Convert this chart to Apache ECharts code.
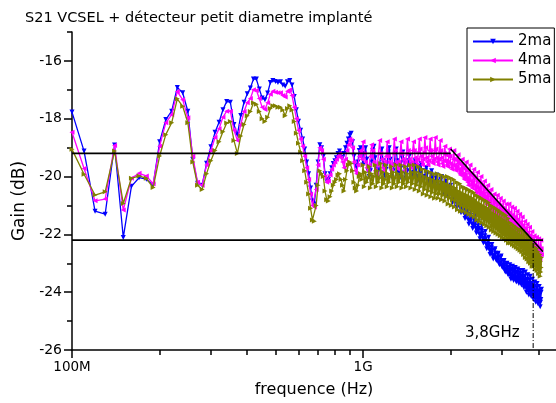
<!DOCTYPE html>
<html><head><meta charset="utf-8">
<script src="https://cdn.jsdelivr.net/npm/echarts@6/dist/echarts.min.js"></script>
<style>html,body{margin:0;padding:0;background:#fff}#c{width:556px;height:403px}</style>
</head><body><div id="c"></div>
<script>
// Sweep: 100 MHz start, 10 MHz step (401-point VNA sweep)
const fStartMHz = 100, fStepMHz = 10;
const seriesNames = ['2ma', '4ma', '5ma'];
const gain2ma = [
-17.77,-19.12,-21.2,-21.3,-18.91,-22.11,-20.34,-20.04,-20.09,-20.3,
-18.8,-18.03,-17.74,-16.92,-17.1,-17.74,-19.41,-20.23,-20.3,-19.54,
-18.97,-18.47,-18.12,-17.69,-17.4,-17.43,-18.2,-18.55,-17.89,-17.43,
-17.14,-16.94,-16.63,-16.63,-16.97,-17.28,-17.34,-17.11,-16.75,-16.68,
-16.71,-16.75,-16.72,-16.83,-16.88,-16.72,-16.68,-16.83,-17.23,-17.69,
-18.09,-18.4,-18.7,-19.05,-19.5,-19.9,-20.4,-20.85,-20.95,-20.3,
-19.5,-18.9,-19.0,-19.3,-19.9,-20.15,-20.1,-19.9,-19.7,-19.55,
-19.45,-19.35,-19.2,-19.12,-19.2,-19.35,-19.2,-19.0,-18.85,-18.7,
-18.55,-18.5,-18.8,-19.3,-19.6,-19.7,-19.5,-19.1,-19.0,-19.3,
-19.6,-19.2,-19.0,-19.4,-19.8,-20.0,-19.8,
-19.5,-19.1,-18.95,-19.35,-19.75,-20.05,-19.8,
-19.6,-19.25,-19.05,-19.45,-19.85,-20.0,-19.75,
-19.55,-19.15,-19.0,-19.4,-19.8,-20.05,-19.8,
-19.6,-19.2,-19.05,-19.45,-19.85,-20.1,-19.85,
-19.7,-19.35,-19.15,-19.5,-19.85,-20.05,-19.85,
-19.8,-19.45,-19.3,-19.6,-19.95,-20.1,-19.95,
-19.85,
-19.6,-19.45,-19.75,-20.0,-20.15,-20.0,
-19.9,-19.65,-19.55,-19.8,-20.05,-20.15,-20.05,
-20.0,-19.8,-19.7,-19.9,-20.1,-20.2,-20.1,
-20.1,-19.9,-19.8,-20.0,-20.2,-20.3,-20.2,
-20.25,-20.05,-19.95,-20.15,-20.35,-20.45,-20.35,
-20.35,-20.1,-20.0,-20.25,-20.5,-20.6,-20.5,
-20.5,-20.25,-20.15,-20.4,-20.65,-20.75,-20.65,
-20.65,-20.4,-20.3,-20.55,-20.8,-20.9,-20.8,
-20.8,-20.6,-20.45,-20.7,-20.9,-21.05,-20.9,
-21.0,-20.8,-20.65,-20.9,-21.1,-21.25,-21.1,
-21.2,-21.0,-20.85,-21.1,-21.3,-21.45,-21.3,
-21.4,-21.2,-21.05,-21.3,-21.5,-21.65,-21.5,
-21.55,-21.35,-21.2,-21.45,-21.65,-21.8,-21.65,
-21.7,-21.5,-21.35,-21.6,-21.8,-21.95,-21.8,
-21.9,-21.7,-21.55,-21.8,-22.0,-22.15,-22.0,
-22.05,-21.85,-21.7,-21.95,-22.15,-22.3,-22.15,
-22.25,-22.05,-21.9,-22.15,-22.35,-22.5,-22.35,
-22.45,-22.25,-22.1,-22.35,-22.55,-22.7,-22.55,
-22.65,-22.45,-22.35,-22.55,-22.75,-22.85,-22.75,
-22.75,-22.55,-22.5,-22.65,-22.85,-22.9,-22.85,
-22.9,-22.7,-22.65,-22.8,-23.0,-23.05,-23.0,
-23.0,-22.8,-22.75,-22.9,-23.1,-23.15,-23.1,
-23.15,-22.95,-22.9,-23.05,-23.25,-23.3,-23.25,
-23.25,-23.05,-23.0,-23.15,-23.35,-23.4,-23.35,
-23.35,-23.15,-23.05,-23.25,-23.45,-23.55,-23.45,
-23.4,-23.2,-23.1,-23.3,-23.5,-23.6,-23.5,
-23.45,-23.25,-23.15,-23.35,-23.55,-23.65,-23.55,
-23.5,-23.3,-23.2,-23.4,-23.6,-23.7,-23.6,
-23.55,-23.35,-23.25,-23.45,-23.65,-23.75,-23.65,
-23.6,-23.35,-23.25,-23.5,-23.75,-23.85,-23.75,
-23.7,-23.45,-23.3,-23.6,-23.85,-24.0,-23.85,
-23.8,-23.55,-23.4,-23.7,-23.95,-24.1,-23.95,
-23.85,-23.6,-23.45,-23.75,-24.0,-24.15,-24.0,
-23.95,-23.7,-23.55,-23.85,-24.1,-24.25,-24.1,
-24.05,-23.8,-23.65,-23.95,-24.2,-24.35,-24.2,
-24.1,-23.85,-23.7,-24.0,-24.25,-24.4,-24.25,
-24.2,-23.95,-23.8,-24.1,-24.35,-24.5,-24.35,
-24.25,-24.0,-23.9
];
const gain4ma = [
-18.47,-19.72,-20.84,-20.78,-18.93,-21.16,-20.06,-19.89,-19.98,-20.25,
-18.95,-18.14,-17.86,-17.06,-17.34,-17.97,-19.3,-20.2,-20.3,-19.6,
-19.1,-18.65,-18.35,-17.95,-17.74,-17.74,-18.4,-18.75,-18.2,-17.75,
-17.45,-17.3,-17.0,-17.02,-17.3,-17.6,-17.68,-17.45,-17.15,-17.05,
-17.08,-17.1,-17.1,-17.2,-17.25,-17.05,-17.0,-17.2,-17.6,-18.0,
-18.4,-18.7,-18.95,-19.3,-19.7,-20.1,-20.6,-21.0,-21.05,-20.45,
-19.6,-19.0,-19.1,-19.4,-20.0,-20.2,-20.15,-19.95,-19.75,-19.6,
-19.5,-19.4,-19.3,-19.2,-19.35,-19.5,-19.7,-19.4,-19.1,-18.9,
-18.7,-18.75,-19.0,-19.5,-19.8,-19.9,-19.6,-19.3,-19.1,-19.4,
-18.8,-19.2,-19.5,-19.7,-19.8,-19.6,-19.3,
-18.9,-19.1,-19.5,-19.8,-19.9,-19.6,-19.2,
-18.75,-19.2,-19.4,-19.7,-19.8,-19.5,-19.3,
-18.8,-19.3,-19.5,-19.7,-19.8,-19.6,-19.2,
-18.7,-19.1,-19.5,-19.7,-19.75,-19.5,-19.2,
-18.8,-19.2,-19.4,-19.6,-19.8,-19.5,-19.2,
-18.7,-19.1,-19.4,-19.6,-19.7,-19.5,-19.1,
-18.8,
-19.1,-19.35,-19.5,-19.6,-19.4,-19.15,
-18.7,-19.05,-19.3,-19.5,-19.6,-19.4,-19.15,
-18.65,-19.0,-19.35,-19.5,-19.6,-19.45,-19.1,
-18.7,-19.1,-19.3,-19.5,-19.55,-19.4,-19.1,
-18.65,-19.05,-19.35,-19.5,-19.6,-19.4,-19.15,
-18.75,-19.1,-19.35,-19.55,-19.65,-19.45,-19.2,
-18.95,-19.25,-19.45,-19.6,-19.65,-19.5,-19.3,
-19.05,-19.3,-19.55,-19.7,-19.75,-19.6,-19.4,
-19.1,-19.4,-19.6,-19.75,-19.8,-19.65,-19.45,
-19.25,-19.55,-19.75,-19.9,-19.95,-19.8,-19.6,
-19.4,-19.7,-19.9,-20.05,-20.1,-19.95,-19.75,
-19.5,-19.8,-20.05,-20.2,-20.3,-20.1,-19.9,
-19.6,-19.9,-20.15,-20.3,-20.4,-20.2,-20.0,
-19.75,-20.05,-20.3,-20.45,-20.55,-20.35,-20.15,
-19.85,-20.15,-20.4,-20.55,-20.65,-20.45,-20.25,
-20.0,-20.3,-20.55,-20.7,-20.8,-20.6,-20.4,
-20.15,-20.45,-20.7,-20.85,-20.95,-20.75,-20.55,
-20.3,-20.6,-20.85,-21.0,-21.1,-20.9,-20.7,
-20.45,-20.75,-21.0,-21.15,-21.25,-21.05,-20.85,
-20.6,-20.9,-21.1,-21.25,-21.3,-21.15,-20.95,
-20.65,-20.95,-21.15,-21.3,-21.35,-21.2,-21.0,
-20.75,-21.05,-21.25,-21.4,-21.45,-21.3,-21.1,
-20.85,-21.15,-21.35,-21.5,-21.55,-21.4,-21.2,
-20.95,-21.25,-21.45,-21.6,-21.65,-21.5,-21.3,
-20.95,-21.25,-21.5,-21.65,-21.75,-21.55,-21.35,
-21.05,-21.35,-21.6,-21.75,-21.85,-21.65,-21.45,
-21.1,-21.4,-21.65,-21.8,-21.9,-21.7,-21.5,
-21.2,-21.5,-21.75,-21.9,-22.0,-21.8,-21.6,
-21.3,-21.6,-21.85,-22.0,-22.1,-21.9,-21.7,
-21.4,-21.7,-21.95,-22.1,-22.2,-22.0,-21.8,
-21.55,-21.85,-22.1,-22.25,-22.35,-22.15,-21.95,
-21.65,-21.95,-22.2,-22.35,-22.45,-22.25,-22.05,
-21.75,-22.05,-22.3,-22.45,-22.55,-22.35,-22.15,
-21.9,-22.2,-22.45,-22.6,-22.7,-22.5,-22.3,
-22.05,-22.35,-22.55,-22.7,-22.75,-22.6,-22.4,
-22.1,-22.4,-22.6,-22.75,-22.8,-22.65,-22.45,
-22.15,-22.45,-22.65,-22.8,-22.85,-22.7,-22.5,
-22.2,-22.5,-22.7
];
const gain5ma = [
-19.06,-19.92,-20.64,-20.53,-19.12,-20.93,-20.06,-19.98,-20.06,-20.38,
-19.29,-18.55,-18.14,-17.31,-17.57,-18.14,-19.5,-20.3,-20.45,-19.9,
-19.45,-19.1,-18.8,-18.45,-18.15,-18.1,-18.75,-19.2,-18.6,-18.2,
-17.9,-17.75,-17.45,-17.5,-17.75,-18.0,-18.1,-17.95,-17.65,-17.55,
-17.55,-17.6,-17.6,-17.7,-17.9,-17.65,-17.55,-17.7,-18.1,-18.5,
-18.85,-19.15,-19.45,-19.8,-20.2,-20.6,-21.1,-21.5,-21.55,-21.0,
-20.3,-19.8,-19.9,-20.0,-20.5,-20.8,-20.85,-20.7,-20.5,-20.3,
-20.2,-20.1,-19.95,-19.9,-20.1,-20.3,-20.5,-20.1,-19.8,-19.6,
-19.5,-19.55,-19.8,-20.2,-20.4,-20.5,-20.3,-20.0,-19.9,-20.1,
-19.6,-20.35,-19.85,-20.2,-20.05,
-19.65,-20.4,-19.9,-20.25,-20.0,
-19.6,-20.35,-19.8,-20.2,-20.05,
-19.55,-20.4,-19.85,-20.25,-20.1,
-19.6,-20.35,-19.9,-20.2,-20.0,
-19.65,-20.4,-19.85,-20.25,-20.05,
-19.6,-20.35,-19.9,-20.2,-20.0,
-19.6,-20.4,-19.85,-20.25,-20.1,
-19.65,-20.35,-19.9,-20.2,-20.05,
-19.6,-20.4,-19.85,-20.25,-20.05,
-19.6,-20.45,-19.85,-20.3,-20.1,
-19.65,-20.5,-19.9,-20.35,-20.15,
-19.75,-20.6,-20.0,-20.45,-20.25,
-19.8,-20.65,-20.05,-20.5,-20.3,
-19.85,-20.7,-20.1,-20.55,-20.35,
-19.9,-20.75,-20.15,-20.6,-20.4,
-19.9,-20.75,-20.15,-20.6,-20.4,
-19.95,-20.8,-20.2,-20.65,-20.45,
-20.0,-20.85,-20.25,-20.7,-20.5,
-20.0,-20.95,-20.3,-20.75,-20.55,
-20.05,-21.0,-20.35,-20.8,-20.6,
-20.1,-21.05,-20.4,-20.85,-20.65,
-20.2,-21.15,-20.5,-20.95,-20.75,
-20.25,-21.2,-20.55,-21.0,-20.8,
-20.35,-21.2,-20.6,-21.05,-20.85,
-20.4,-21.25,-20.65,-21.1,-20.9,
-20.45,-21.3,-20.7,-21.15,-20.95,
-20.5,-21.35,-20.75,-21.2,-21.0,
-20.55,-21.4,-20.8,-21.25,-21.05,
-20.65,-21.5,-20.9,-21.35,-21.15,
-20.7,-21.55,-20.95,-21.4,-21.2,
-20.75,-21.6,-21.0,-21.45,-21.25,
-20.8,-21.65,-21.05,-21.5,-21.3,
-20.85,-21.7,-21.1,-21.55,-21.35,
-20.9,-21.75,-21.15,-21.6,-21.4,
-21.0,-21.85,-21.25,-21.7,-21.5,
-21.05,-21.9,-21.3,-21.75,-21.55,
-21.1,-21.95,-21.35,-21.8,-21.6,
-21.15,-22.0,-21.4,-21.85,-21.65,
-21.2,-22.05,-21.45,-21.9,-21.7,
-21.25,-22.1,-21.5,-21.95,-21.75,
-21.3,-22.15,-21.55,-22.0,-21.8,
-21.35,-22.2,-21.6,-22.05,-21.85,
-21.45,-22.3,-21.7,-22.15,-21.95,
-21.6,-22.3,-21.8,-22.15,-22.0,
-21.65,-22.35,-21.85,-22.2,-22.05,
-21.7,-22.4,-21.9,-22.25,-22.1,
-21.75,-22.45,-21.95,-22.3,-22.15,
-21.8,-22.5,-22.0,-22.35,-22.2,
-21.85,-22.55,-22.05,-22.4,-22.25,
-21.85,-22.6,-22.1,-22.45,-22.3,
-21.85,-22.7,-22.1,-22.55,-22.35,
-21.95,-22.8,-22.2,-22.65,-22.45,
-22.0,-22.85,-22.25,-22.7,-22.5,
-22.1,-22.95,-22.35,-22.8,-22.6,
-22.15,-23.0,-22.4,-22.85,-22.65,
-22.25,-23.1,-22.5,-22.95,-22.75,
-22.35,-23.1,-22.6,-22.95,-22.8,
-22.45,-23.2,-22.7,-23.05,-22.9,
-22.5,-23.25,-22.75,-23.1,-22.95,
-22.6,-23.35,-22.85,-23.2,-23.05,
-22.7,-23.45,-22.95,-23.3,-23.15,
-22.8
];
// Axis ticks
const xMajorTicks = [1e8, 1e9];
const xMinorTicks = [2e8, 3e8, 4e8, 5e8, 6e8, 7e8, 8e8, 9e8, 2e9, 3e9, 4e9];
const yMajorTicks = [-26, -24, -22, -20, -18, -16];
const yMinorTicks = [-25, -23, -21, -19, -17, -15];
// Annotation lines (frequency Hz, gain dB)
const refUpper = [[1e8, -19.2], [2e9, -19.2]];
const refSlope = [[2e9, -19.05], [4.15e9, -22.6]];
const refLower = [[1e8, -22.2], [4.15e9, -22.2]];
const cutoffLine = [[3.84e9, -22.3], [3.84e9, -26]];
const cutoffText = '3,8GHz';

const FONT = 'DejaVu Sans, Verdana, sans-serif';
const colors = ['#0000ff', '#ff00ff', '#808000'];
const rotations = [180, 90, -90];
const gains = [gain2ma, gain4ma, gain5ma];
const freqOf = i => (fStartMHz + fStepMHz * i) * 1e6;

const dataSeries = gains.map((g, s) => ({
  name: seriesNames[s], type: 'line', xAxisIndex: 0, yAxisIndex: 0,
  data: g.map((v, i) => [freqOf(i), v]),
  symbol: 'triangle', symbolSize: 5, symbolRotate: rotations[s], showAllSymbol: true,
  lineStyle: { color: colors[s], width: 1.3 },
  itemStyle: { color: colors[s] },
  z: 2 + s
}));
const refStyle = (d, extra) => Object.assign({
  type: 'line', data: d, symbol: 'none', silent: true, z: 10,
  lineStyle: { color: '#000', width: 1.6 }
}, extra || {});

const chart = echarts.init(document.getElementById('c'), null, { renderer: 'canvas' });
chart.setOption({
  animation: false,
  backgroundColor: '#fff',
  title: {
    text: 'S21 VCSEL + détecteur petit diametre implanté', left: 20, top: 6,
    textStyle: { fontFamily: FONT, fontSize: 14.5, fontWeight: 'normal', color: '#000' }
  },
  legend: {
    data: seriesNames, orient: 'vertical', left: 467, top: 28,
    padding: [6, 3, 25, 5], itemGap: 4, itemWidth: 40, itemHeight: 7,
    borderColor: '#000', borderWidth: 1, backgroundColor: '#fff',
    textStyle: { fontFamily: FONT, fontSize: 15, color: '#000' }
  },
  grid: { left: 72, right: 0, top: 32, bottom: 52 },
  xAxis: [{
    type: 'log', logBase: 10, min: 1e8, max: 4.6e9,
    axisLine: { lineStyle: { color: '#000', width: 1.5 } },
    axisTick: { customValues: xMajorTicks, length: 8, lineStyle: { color: '#000', width: 1.5 } },
    axisLabel: { customValues: xMajorTicks, margin: 10, fontFamily: FONT, fontSize: 13.5, color: '#000',
      formatter: v => { const e = Math.round(Math.log10(v)); return e === 8 ? '100M' : (e === 9 ? '1G' : ''); } },
    splitLine: { show: false }, minorTick: { show: false },
    name: 'frequence (Hz)', nameLocation: 'middle', nameGap: 32,
    nameTextStyle: { fontFamily: FONT, fontSize: 16, color: '#000' }
  }, {
    type: 'log', logBase: 10, min: 1e8, max: 4.6e9, position: 'bottom',
    axisLine: { show: false },
    axisTick: { customValues: xMinorTicks, length: 5, lineStyle: { color: '#000', width: 1.5 } },
    axisLabel: { show: false }, splitLine: { show: false }
  }],
  yAxis: [{
    type: 'value', min: -26, max: -15, interval: 1,
    axisLine: { show: true, lineStyle: { color: '#000', width: 1.5 } },
    axisTick: { customValues: yMajorTicks, length: 8, lineStyle: { color: '#000', width: 1.5 } },
    axisLabel: { customValues: yMajorTicks, margin: 10, fontFamily: FONT, fontSize: 14, color: '#000' },
    splitLine: { show: false },
    name: 'Gain (dB)', nameLocation: 'middle', nameGap: 42,
    nameTextStyle: { fontFamily: FONT, fontSize: 17, color: '#000', padding: [0, 20, 0, 0] }
  }, {
    type: 'value', min: -26, max: -15, position: 'left',
    axisLine: { show: false },
    axisTick: { customValues: yMinorTicks, length: 5, lineStyle: { color: '#000', width: 1.5 } },
    axisLabel: { show: false }, splitLine: { show: false }
  }],
  series: dataSeries.concat([
    refStyle(refUpper), refStyle(refSlope), refStyle(refLower),
    refStyle(cutoffLine, { lineStyle: { color: '#000', width: 1, type: [5, 2, 1, 2] } })
  ]),
  graphic: [{
    type: 'text', left: 465, top: 326,
    style: { text: cutoffText, fontFamily: FONT, fontSize: 15, fill: '#000' }
  }]
});
</script></body></html>
